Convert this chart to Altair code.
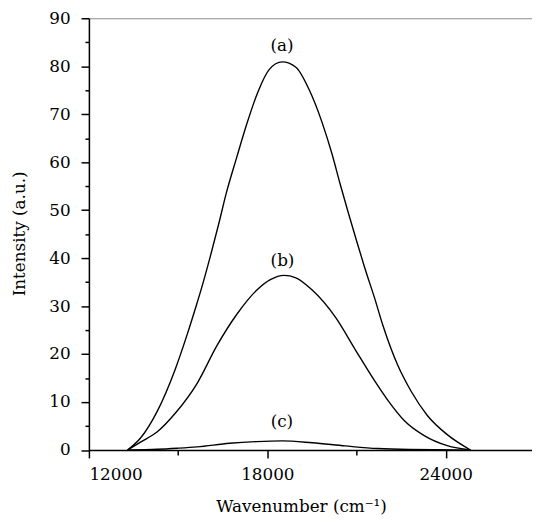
import altair as alt
import pandas as pd

# Curve (a)
wn_a = [13300, 13750, 14300, 14900, 15300, 15580, 15800, 16080, 16360, 16630,
        16960, 17300, 17680, 18060, 18500, 18960, 19400, 19840, 20180, 20450,
        20730, 21010, 21280, 21610, 21890, 22390, 22830, 23380, 24050, 24830]
int_a = [0, 2.6, 8.1, 16.8, 24.0, 29.5, 34.0, 40.3, 47.0, 53.8,
         60.8, 67.8, 74.6, 79.3, 80.9, 79.8, 75.2, 68.3, 61.6, 55.4,
         49.3, 43.4, 37.9, 31.6, 25.9, 17.6, 12.3, 7.2, 3.2, 0]

# Curve (b)
wn_b = [13300, 13750, 14300, 14910, 15640, 16300, 16975, 17640, 18100, 18560,
        18960, 19500, 20300, 20950, 21610, 22060, 22610, 23275, 24050, 24830]
int_b = [0, 1.7, 3.8, 7.7, 13.9, 21.7, 28.3, 33.3, 35.5, 36.4,
         35.9, 33.4, 27.6, 21.0, 14.4, 10.3, 6.1, 3.0, 0.9, 0]

# Curve (c)
wn_c = [13300, 14300, 14970, 15640, 16730, 17630, 18500, 19510, 20620, 21710, 22800, 24830]
int_c = [0, 0.15, 0.37, 0.65, 1.4, 1.75, 1.9, 1.5, 0.85, 0.3, 0.1, 0]

# Curve labels
lab_text = ["(a)", "(b)", "(c)"]
lab_wn = [18490, 18510, 18490]
lab_int = [84.2, 39.4, 5.9]

x_major = [12000, 18000, 24000]
x_minor = [15000, 21000]
y_major = list(range(0, 91, 10))
y_minor = list(range(5, 90, 10))

rows = []
for name, ws, ys in (("a", wn_a, int_a), ("b", wn_b, int_b), ("c", wn_c, int_c)):
    for w, v in zip(ws, ys):
        rows.append({"wn": w, "I": v, "s": name})
df = pd.DataFrame(rows)
lab_df = pd.DataFrame({"wn": lab_wn, "I": lab_int, "lab": lab_text})

FONT = "DejaVu Serif"
xscale = alt.Scale(domain=[12000, 26900], nice=False, zero=False)
yscale = alt.Scale(domain=[0, 90], nice=False)

lines = alt.Chart(df).mark_line(color="black", strokeWidth=1.4, interpolate="monotone").encode(
    x=alt.X("wn:Q", scale=xscale,
            axis=alt.Axis(values=x_major, format="d", orient="bottom", tickSize=8,
                          labelPadding=9, title="Wavenumber (cm⁻¹)",
                          titleX=215, titleY=62, titleAlign="center",
                          titleBaseline="alphabetic", titleAnchor="middle")),
    y=alt.Y("I:Q", scale=yscale,
            axis=alt.Axis(values=y_major, orient="left", tickSize=8, labelPadding=11,
                          title="Intensity (a.u.)", titleAngle=270,
                          titleX=-65, titleY=218, titleAlign="center",
                          titleBaseline="alphabetic", titleAnchor="middle")),
    detail="s:N",
)

labels = alt.Chart(lab_df).mark_text(font=FONT, fontSize=17, color="black",
                                     baseline="middle", align="center").encode(
    x=alt.X("wn:Q", scale=xscale,
            axis=alt.Axis(values=x_minor, labels=False, domain=False, tickSize=5,
                          orient="bottom", title=None)),
    y=alt.Y("I:Q", scale=yscale,
            axis=alt.Axis(values=y_minor, labels=False, domain=False, tickSize=4,
                          orient="left", title=None)),
    text="lab:N",
)

chart = alt.layer(lines, labels).resolve_axis(
    x="independent", y="independent"
).properties(
    width=449, height=437.5,
    padding={"left": 82, "top": 7, "right": 0, "bottom": 65.5},
    autosize=alt.AutoSizeParams(type="none"),
    background="white",
).configure_view(
    stroke="#8a8a8a", strokeWidth=1
).configure_axis(
    domainColor="black", domainWidth=1.5, tickColor="black", tickWidth=1.5,
    labelFont=FONT, labelFontSize=17, labelColor="black",
    titleFont=FONT, titleFontSize=17, titleColor="black", titleFontWeight="normal",
    grid=False,
)

chart.save("out.html", embed_options={"renderer": "svg", "actions": False})
